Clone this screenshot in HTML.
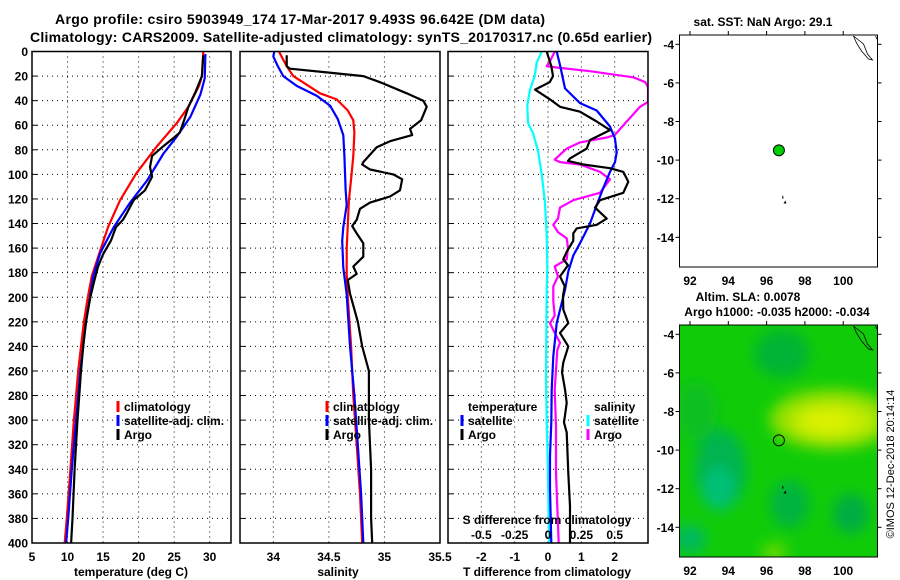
<!DOCTYPE html>
<html><head><meta charset="utf-8"><style>
html,body{margin:0;padding:0;background:#fff}
svg{display:block;font-family:"Liberation Sans",Arial,sans-serif;font-weight:bold}
</style></head><body>
<svg id="fig" width="900" height="580" viewBox="0 0 900 580" xmlns="http://www.w3.org/2000/svg">
<defs>
<clipPath id="c1"><rect x="32" y="51.5" width="199" height="491.5"/></clipPath>
<clipPath id="c2"><rect x="240" y="51.5" width="200" height="491.5"/></clipPath>
<clipPath id="c3"><rect x="448" y="51.5" width="200" height="491.5"/></clipPath>
<clipPath id="cm2"><rect x="679.5" y="325" width="198" height="232"/></clipPath>
<filter id="blur" x="-50%" y="-50%" width="200%" height="200%"><feGaussianBlur stdDeviation="7"/></filter>
</defs>
<text x="300" y="24" font-size="14" text-anchor="middle" textLength="490">Argo profile: csiro 5903949_174 17-Mar-2017 9.493S 96.642E (DM data)</text>
<text x="341" y="42" font-size="14" text-anchor="middle" textLength="622">Climatology: CARS2009. Satellite-adjusted climatology: synTS_20170317.nc (0.65d earlier)</text>
<g id="panels"></g>
<g id="maps"></g>
</svg>
<script>
// ---- Data ----
const depthTicks = [0,20,40,60,80,100,120,140,160,180,200,220,240,260,280,300,320,340,360,380,400];
const tempTicks = [5,10,15,20,25,30];
const salTicks = [34,34.5,35,35.5];
const salTickLabels = ["34","34.5","35","35.5"];
const tdiffTicks = [-2,-1,0,1,2];
const sdiffTicks = [-0.5,-0.25,0,0.25,0.5];
const sdiffTickLabels = ["-0.5","-0.25","0","0.25","0.5"];

const climTDepth = [0,20,28,45,58,77,99,121,143,162,183,202,220,240,260,280,300,340,380,400];
const climT = [29.1,28.9,28.5,27.0,25.4,22.6,19.7,17.4,15.7,14.6,13.4,12.8,12.3,11.9,11.5,11.2,10.9,10.4,9.9,9.6];
const satTDepth = [2,22,35,53,69,83,105,123,143,164,183,202,220,240,260,280,300,340,380,400];
const satT = [29.4,29.3,28.7,27.3,25.4,23.5,21.2,18.8,16.5,14.6,13.6,13.1,12.6,12.2,11.8,11.5,11.2,10.6,10.1,9.8];
const argoTDepth = [3,20,33,45,56,66,70,77,85,94,102,113,121,132,137,143,154,165,175,186,200,220,240,260,300,340,380,400];
const argoT = [29.1,28.9,28.0,27.0,26.4,25.8,25.0,23.5,21.9,21.6,21.9,20.9,19.3,18.3,17.8,16.8,16.1,15.0,14.3,13.8,13.2,12.6,12.2,11.9,11.4,11.0,10.7,10.5];

const climSDepth = [0,12,20,27,34,39,48,56,66,85,104,121,141,160,181,200,240,280,320,360,400];
const climS = [34.05,34.12,34.18,34.30,34.42,34.57,34.67,34.72,34.73,34.72,34.70,34.68,34.67,34.66,34.66,34.67,34.70,34.72,34.75,34.78,34.80];
const satSDepth = [0,4,12,20,28,36,44,55,68,85,112,125,143,154,176,198,240,280,320,360,400];
const satS = [34.01,34.0,34.04,34.09,34.21,34.39,34.51,34.58,34.63,34.64,34.65,34.66,34.63,34.62,34.63,34.66,34.69,34.73,34.76,34.79,34.81];
const argoSDepth = [3,12,14,17,20,25,34,40,45,56,63,68,73,78,90,92,96,100,104,113,118,123,128,137,142,148,156,167,175,181,186,197,220,240,260,300,340,380,400];
const argoS = [34.12,34.12,34.15,34.48,34.81,34.96,35.20,35.35,35.38,35.33,35.23,35.25,35.05,34.93,34.81,34.80,34.87,35.08,35.16,35.14,35.05,34.87,34.78,34.75,34.71,34.75,34.81,34.81,34.72,34.75,34.67,34.69,34.76,34.80,34.86,34.86,34.88,34.88,34.89];

const satTdDepth = [0,11,30,42,48,61,71,82,90,98,111,125,140,156,166,179,194,221,248,275,302,329,356,400];
const satTd = [0.26,0.36,0.51,0.96,1.46,1.86,2.01,2.06,2.01,1.86,1.66,1.46,1.26,0.96,0.76,0.61,0.51,0.26,0.16,0.11,0.10,0.06,0.06,0.10];
const argoTdDepth = [0,12,20,25,31,39,45,49,57,64,72,79,87,89,92,95,98,106,115,121,127,136,141,144,148,154,163,169,174,183,191,199,210,221,229,240,253,261,275,286,302,310,343,370,400];
const argoTd = [-0.04,0.1,0.15,0.05,-0.39,0.06,0.36,0.96,1.46,1.86,1.26,1.16,0.66,0.6,1.06,1.86,2.26,2.41,2.26,1.56,1.41,1.76,1.46,0.86,0.76,0.76,0.56,0.46,0.6,0.36,0.5,0.45,0.46,0.61,0.36,0.61,0.46,0.42,0.51,0.56,0.48,0.56,0.61,0.66,0.66];
const satSdDepth = [0,9,20,31,44,58,67,82,100,122,149,176,194,221,267,302,343,384,400];
const satSd = [-0.047,-0.085,-0.1,-0.135,-0.155,-0.15,-0.11,-0.073,-0.047,-0.023,-0.01,-0.005,-0.01,-0.012,-0.015,-0.01,0,0.005,0.01];
const argoSdDepth = [0,8,12,13,16,21,25,29,41,45,57,68,70,74,79,88,90,92,98,104,115,121,127,136,141,147,152,160,169,175,183,191,203,215,221,229,237,243,275,305,343,400];
const argoSd = [0.05,0.015,-0.01,0.065,0.315,0.64,0.73,0.75,0.75,0.69,0.59,0.5,0.44,0.24,0.14,0.05,0.09,0.24,0.39,0.465,0.39,0.19,0.09,0.075,0.04,0.075,0.14,0.15,0.14,0.05,0.075,0.04,0.04,0.05,0.015,0.05,0.09,0.07,0.05,0.06,0.06,0.08];

const lonTicks = [92,94,96,98,100];
const latTicks = [-4,-6,-8,-10,-12,-14];
const argoLon = 96.642, argoLat = -9.493;

// ---- helpers ----
const NS = "http://www.w3.org/2000/svg";
function mk(tag, attrs, parent, txt){
  const e = document.createElementNS(NS, tag);
  for (const k in attrs) e.setAttribute(k, attrs[k]);
  if (txt !== undefined) e.textContent = txt;
  parent.appendChild(e);
  return e;
}
const Y0 = 51.5, Y1 = 543;
const yD = d => Y0 + d * (Y1 - Y0) / 400;
const xT = v => 32 + (v - 5) * 199 / 28;
const xS = v => 240 + (v - 33.7) * 200 / 1.8;
const xTd = v => 548 + v * 100 / 3;
const xSd = v => 548 + v * 400 / 3;

const panels = document.getElementById('panels');

function panelFrame(x0, x1, name){
  const g = mk('g', {}, panels);
  
  
  return g;
}
function grid(g, x0, x1, xs){
  depthTicks.forEach((d,i) => {
    if (d===0 || d===400) return;
    const l = mk('line', {x1:x0, x2:x1, y1:yD(d), y2:yD(d), stroke:'#000', 'stroke-width':1, 'stroke-dasharray':'1,4'}, g);
    
    
    mk('line', {x1:x0, x2:x0+5, y1:yD(d), y2:yD(d), stroke:'#000'}, g);
  });
  xs.forEach(x => {
    const l = mk('line', {x1:x, x2:x, y1:Y0, y2:Y1, stroke:'#000', 'stroke-width':1, 'stroke-dasharray':'1,4'}, g);
    
    
  });
}
function border(g, x0, x1){
  const r = mk('rect', {x:x0, y:Y0, width:x1-x0, height:Y1-Y0, fill:'none', stroke:'#000', 'stroke-width':1.5}, g);
  
  
}
function series(g, clip, depths, vals, xf, color, name){
  const pts = depths.map((d,i) => xf(vals[i]).toFixed(1) + ',' + yD(d).toFixed(1)).join(' ');
  const p = mk('polyline', {points:pts, fill:'none', stroke:color, 'stroke-width':2.2, 'stroke-linejoin':'round', 'clip-path':'url(#'+clip+')'}, g);
  
  
}
function legend(g, x, y, items){
  items.forEach((it,i) => {
    const yy = y + i*14;
    if (it.color){
      const m = mk('line', {x1:x, x2:x, y1:yy-10, y2:yy+1, stroke:it.color, 'stroke-width':3}, g);
      
      
    }
    const t = mk('text', {x:x+6, y:yy, 'font-size':12}, g, it.label);
    
    
  });
}
function xLabels(g, ticks, labels, xf, y){
  ticks.forEach((v,i) => {
    const t = mk('text', {x:xf(v), y:y, 'font-size':12, 'text-anchor':'middle'}, g, labels[i]);
    
    
  });
}

// Panel 1: temperature
const g1 = panelFrame(32, 231, 'temperature-panel');
grid(g1, 32, 231, tempTicks.slice(1).map(xT));
series(g1, 'c1', climTDepth, climT, xT, '#ff0000', 'climatology-temperature-line');
series(g1, 'c1', satTDepth, satT, xT, '#0000ff', 'satellite-temperature-line');
series(g1, 'c1', argoTDepth, argoT, xT, '#000000', 'argo-temperature-line');
border(g1, 32, 231);
depthTicks.forEach(d => {
  const t = mk('text', {x:28, y:yD(d)+4.5, 'font-size':12, 'text-anchor':'end'}, g1, String(d));
  
  
});
xLabels(g1, tempTicks, tempTicks.map(String), xT, 561);
legend(g1, 118, 411, [{color:'#ff0000',label:'climatology'},{color:'#0000ff',label:'satellite-adj. clim.'},{color:'#000',label:'Argo'}]);
let at = mk('text', {x:131, y:576, 'font-size':12, 'text-anchor':'middle'}, g1, 'temperature (deg C)');



// Panel 2: salinity
const g2 = panelFrame(240, 440, 'salinity-panel');
grid(g2, 240, 440, salTicks.slice(0,3).map(xS));
series(g2, 'c2', climSDepth, climS, xS, '#ff0000', 'climatology-salinity-line');
series(g2, 'c2', satSDepth, satS, xS, '#0000ff', 'satellite-salinity-line');
series(g2, 'c2', argoSDepth, argoS, xS, '#000000', 'argo-salinity-line');
border(g2, 240, 440);
xLabels(g2, salTicks, salTickLabels, xS, 561);
legend(g2, 327, 411, [{color:'#ff0000',label:'climatology'},{color:'#0000ff',label:'satellite-adj. clim.'},{color:'#000',label:'Argo'}]);
at = mk('text', {x:338, y:576, 'font-size':12, 'text-anchor':'middle'}, g2, 'salinity');



// Panel 3: differences
const g3 = panelFrame(448, 648, 'difference-panel');
grid(g3, 448, 648, tdiffTicks.map(xTd));
series(g3, 'c3', satSdDepth, satSd, xSd, '#00ffff', 'satellite-salinity-diff-line');
series(g3, 'c3', argoSdDepth, argoSd, xSd, '#ff00ff', 'argo-salinity-diff-line');
series(g3, 'c3', satTdDepth, satTd, xTd, '#0000ff', 'satellite-temperature-diff-line');
series(g3, 'c3', argoTdDepth, argoTd, xTd, '#000000', 'argo-temperature-diff-line');
border(g3, 448, 648);
xLabels(g3, tdiffTicks, tdiffTicks.map(String), xTd, 561);
xLabels(g3, sdiffTicks, sdiffTickLabels, xSd, 539);
let st = mk('text', {x:547, y:524, 'font-size':12, 'text-anchor':'middle'}, g3, 'S difference from climatology');


legend(g3, 462, 411, [{label:'temperature'},{color:'#0000ff',label:'satellite'},{color:'#000',label:'Argo'}]);
legend(g3, 588, 411, [{label:'salinity'},{color:'#00ffff',label:'satellite'},{color:'#ff00ff',label:'Argo'}]);
at = mk('text', {x:547, y:576, 'font-size':12, 'text-anchor':'middle'}, g3, 'T difference from climatology');



// ---- Maps ----
const maps = document.getElementById('maps');
const MX0 = 679.5, MX1 = 877.5;
const lonX = lon => 690 + (lon - 92) * 19.15;
function drawMap(top, bottom, name, filled){
  const g = mk('g', {}, maps);
  
  
  const latY = lat => top + 9.3 + (-4 - lat) * 19.3;
  if (filled){
    const f = mk('g', {'clip-path':'url(#cm2)'}, g);
    mk('rect', {x:MX0, y:top, width:MX1-MX0, height:bottom-top, fill:'#10cc08'}, f);
    const blobs = f.appendChild(document.createElementNS(NS,'g'));
    blobs.setAttribute('filter','url(#blur)');
    const B = (lon,lat,rx,ry,c) => mk('ellipse', {cx:lonX(lon), cy:latY(lat), rx:rx, ry:ry, fill:c}, blobs);
    B(96.8,-5.0,28,24,'#04b434');
    B(92.3,-8,22,30,'#08c020');
    B(93.6,-11,26,40,'#00b450');
    B(93.5,-12,16,22,'#00c078');
    B(92,-14.6,16,14,'#00b864');
    B(97.2,-12.8,20,24,'#02b440');
    B(100.4,-13.3,18,20,'#00ac44');
    B(99.4,-8.4,62,30,'#90e000');
    B(99.4,-8.5,42,18,'#c4ec00');
    B(99.2,-8.5,24,11,'#dcf200');
    B(96.4,-15.3,12,9,'#70dc00');
  }
  const r = mk('rect', {x:MX0, y:top, width:MX1-MX0, height:bottom-top, fill:'none', stroke:'#000', 'stroke-width':1}, g);
  
  
  lonTicks.forEach(lon => {
    mk('line', {x1:lonX(lon), x2:lonX(lon), y1:top, y2:top-4, stroke:'#000'}, g);
    const t = mk('text', {x:lonX(lon), y:bottom+18, 'font-size':12, 'text-anchor':'middle'}, g, String(lon));
    
    
  });
  latTicks.forEach(lat => {
    mk('line', {x1:MX1, x2:MX1+4, y1:latY(lat), y2:latY(lat), stroke:'#000'}, g);
    mk('line', {x1:MX0, x2:MX0-4, y1:latY(lat), y2:latY(lat), stroke:'#000'}, g);
    const t = mk('text', {x:674, y:latY(lat)+4.5, 'font-size':12, 'text-anchor':'end'}, g, String(lat));
    
    
  });
  mk('path', {d:'M'+(MX1-24)+','+(top+1)+' l10,8 l4,10 l5,6 l-4,-1 l-7,-8 l-5,-8 z M'+(MX1-2)+','+(top+1)+' l2,4', fill:'none', stroke:'#000', 'stroke-width':0.8}, g);
  mk('rect', {x:lonX(96.82), y:latY(-11.85), width:1, height:3, fill:'#000'}, g);
  mk('path', {d:'M'+lonX(96.88)+','+latY(-12.25)+' l2,-3 l1,3 z', fill:'#000'}, g);
  const c = mk('circle', {cx:lonX(argoLon), cy:latY(argoLat), r:5.5, fill:filled?'none':'#00cc00', stroke:'#000', 'stroke-width':1}, g);
  
  
  return g;
}
const m1 = drawMap(35, 267, 'sst-map', false);
let mt = mk('text', {x:763, y:26, 'font-size':12, 'text-anchor':'middle'}, m1, 'sat. SST: NaN Argo: 29.1');


const m2 = drawMap(325, 557, 'sla-map', true);
mt = mk('text', {x:748, y:301, 'font-size':12, 'text-anchor':'middle'}, m2, 'Altim. SLA: 0.0078');


mt = mk('text', {x:777, y:316, 'font-size':12, 'text-anchor':'middle'}, m2, 'Argo h1000: -0.035 h2000: -0.034');


mt = mk('text', {x:0, y:0, 'font-size':11, 'font-weight':'normal', 'text-anchor':'middle', transform:'translate(894,464) rotate(-90)'}, m2, '©IMOS 12-Dec-2018 20:14:14');


</script>
</body></html>
